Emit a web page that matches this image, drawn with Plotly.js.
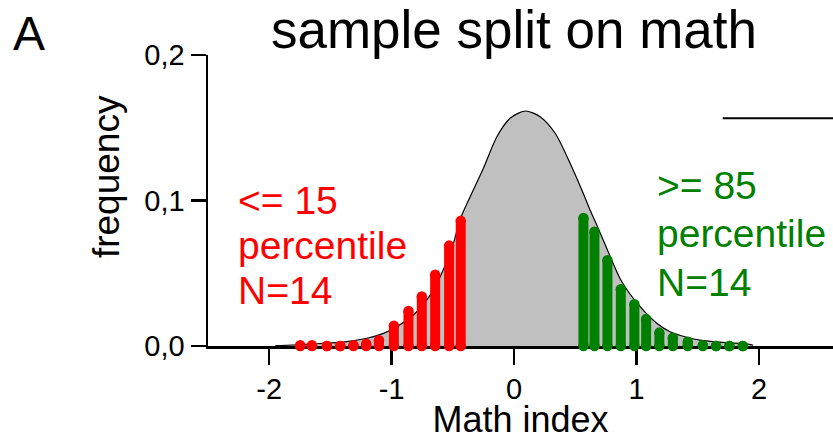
<!DOCTYPE html>
<html>
<head>
<meta charset="utf-8">
<script src="https://cdn.plot.ly/plotly-3.0.1.min.js"></script>
<style>html,body{margin:0;padding:0;background:#fff;}#chart{width:833px;height:440px;}</style>
</head>
<body>
<div id="chart"></div>
<script>
// Density curve
const curveX = [-1.95, -1.91, -1.638, -1.366, -1.202, -1.067, -0.958, -0.822, -0.713, -0.604, -0.496, -0.441, -0.359, -0.251, -0.141, -0.033, 0.090, 0.212, 0.335, 0.457, 0.553, 0.620, 0.675, 0.762, 0.871, 1.029, 1.165, 1.273, 1.41, 1.545, 1.736, 1.90, 1.95];
const curveY = [0.0002, 0.0003, 0.0014, 0.003, 0.0053, 0.0087, 0.0133, 0.0213, 0.0316, 0.0476, 0.0706, 0.087, 0.1026, 0.1221, 0.1438, 0.1565, 0.1615, 0.1576, 0.1462, 0.1256, 0.1072, 0.0935, 0.0832, 0.066, 0.0454, 0.027, 0.0156, 0.0098, 0.006, 0.0037, 0.0023, 0.0014, 0.0006];

// Low group (<= 15 percentile)
const lowX = [-1.747, -1.651, -1.529, -1.420, -1.312, -1.208, -1.104, -0.982, -0.863, -0.754, -0.645, -0.531, -0.436];
const lowY = [0.0005, 0.0005, 0, 0, 0.0005, 0.0015, 0.004, 0.014, 0.024, 0.034, 0.049, 0.069, 0.086];

// High group (>= 85 percentile)
const highX = [0.566, 0.656, 0.762, 0.871, 0.982, 1.078, 1.186, 1.296, 1.418, 1.541, 1.649, 1.758, 1.867];
const highY = [0.088, 0.0786, 0.059, 0.039, 0.0287, 0.0186, 0.0092, 0.0057, 0.003, 0.0005, 0, 0, 0];

const xTicks = [-2, -1, 0, 1, 2];
const yTicks = [0, 0.1, 0.2];
const yTickText = ['0,0', '0,1', '0,2'];

const lowLabel = ['&lt;= 15', 'percentile', 'N=14'];
const highLabel = ['&gt;= 85', 'percentile', 'N=14'];

const FONT = 'Liberation Sans, Arial, Helvetica, sans-serif';

function stemTraces(xs, ys, color, name) {
  const lx = [], ly = [];
  xs.forEach((x, i) => { lx.push(x, x, null); ly.push(0, ys[i], null); });
  return [
    {type: 'scatter', mode: 'lines', x: lx, y: ly, name: name, showlegend: false,
     line: {color: color, width: 10}, cliponaxis: false, hoverinfo: 'skip'},
    {type: 'scatter', mode: 'markers', x: xs.concat(xs), y: xs.map(() => 0).concat(ys), name: name,
     showlegend: false, marker: {color: color, size: 10.5, line: {width: 0}}, cliponaxis: false}
  ];
}

const traces = [
  {type: 'scatter', mode: 'lines', x: curveX, y: curveY, fill: 'tozeroy', fillcolor: '#c0c0c0',
   line: {color: '#000', width: 1.2, shape: 'spline', smoothing: 0.8}, showlegend: false, hoverinfo: 'skip'}
].concat(stemTraces(lowX, lowY, '#ff0000', 'low'), stemTraces(highX, highY, '#008000', 'high'));

function groupLabels(lines, x, ys, color) {
  return lines.map((t, i) => ({
    text: t, xref: 'x', yref: 'y', x: x, y: ys[i], xanchor: 'left', yanchor: 'middle',
    align: 'left', showarrow: false, font: {family: FONT, size: 39, color: color}
  }));
}

const layout = {
  width: 833, height: 440,
  margin: {l: 208, r: 0, t: 55, b: 94, pad: 0},
  paper_bgcolor: '#fff', plot_bgcolor: '#fff',
  font: {family: FONT, color: '#000'},
  showlegend: false,
  title: {text: 'sample split on math', font: {family: FONT, size: 53, color: '#000'},
          xref: 'paper', x: 0.4896, xanchor: 'center', yref: 'container', y: 0.932, yanchor: 'middle'},
  xaxis: {range: [-2.5, 2.604], tickvals: xTicks, ticktext: xTicks.map(String),
          ticks: 'outside', ticklen: 16, tickwidth: 2.5, tickcolor: '#000',
          showline: true, linewidth: 2.5, linecolor: '#000', showgrid: false, zeroline: false,
          tickfont: {family: FONT, size: 29, color: '#000'}, layer: 'below traces',
          title: {text: 'Math index', font: {family: FONT, size: 36, color: '#000'}, standoff: 7}},
  yaxis: {range: [0, 0.2], tickvals: yTicks, ticktext: yTickText,
          ticks: 'outside', ticklen: 15, tickwidth: 2.5, tickcolor: '#000',
          showline: true, linewidth: 2.5, linecolor: '#000', showgrid: false, zeroline: false,
          tickfont: {family: FONT, size: 29, color: '#000'}, layer: 'below traces'},
  annotations: [
    {text: 'A', xref: 'paper', yref: 'paper', x: -0.3152, y: 1.0756, xanchor: 'left', yanchor: 'middle',
     showarrow: false, font: {family: FONT, size: 48, color: '#000'}},
    {text: 'frequency', xref: 'paper', yref: 'paper', x: -0.1632, y: 0.584, textangle: -90,
     xanchor: 'center', yanchor: 'middle', showarrow: false, font: {family: FONT, size: 37, color: '#000'}}
  ].concat(
    groupLabels(lowLabel, -2.269, [0.0999, 0.0689, 0.0380], '#ff0000'),
    groupLabels(highLabel, 1.151, [0.1102, 0.0772, 0.0435], '#008000')
  ),
  shapes: [
    {type: 'line', xref: 'paper', yref: 'paper', x0: 0.8235, x1: 1.0, y0: 0.7825, y1: 0.7825,
     line: {color: '#000', width: 2}}
  ]
};

Plotly.newPlot('chart', traces, layout, {displayModeBar: false, staticPlot: true});
</script>
</body>
</html>
